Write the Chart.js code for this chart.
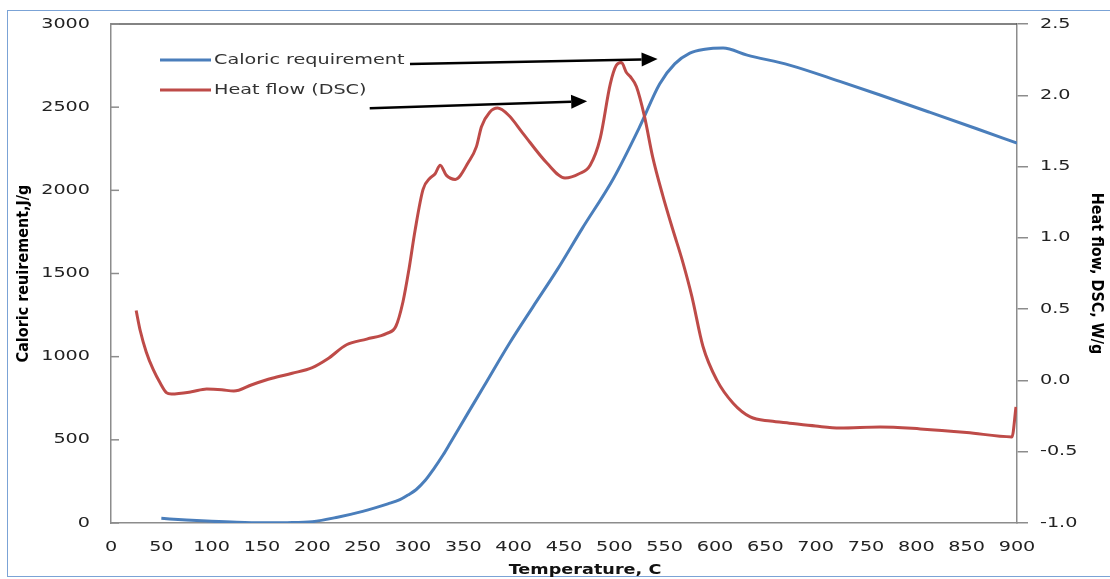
<!DOCTYPE html>
<html>
<head>
<meta charset="utf-8">
<title>Caloric requirement and heat flow (DSC)</title>
<script src="https://cdn.jsdelivr.net/npm/chart.js@4.4.1/dist/chart.umd.min.js"></script>
<style>
  html, body { margin: 0; padding: 0; background: #fff; }
  #wrap { position: relative; width: 1110px; height: 579px; overflow: hidden; }
  #frame { position: absolute; left: 7px; top: 10px; width: 1120px; height: 567px; border: 1.5px solid #7ba3d6; box-sizing: border-box; }
  canvas { position: absolute; left: 0; top: 0; }
</style>
</head>
<body>
<div id="wrap">
  <div id="frame"></div>
  <canvas id="chart" width="1110" height="579"></canvas>
</div>
<script>
// Caloric requirement (left axis, J/g)
var caloricTemp  = [50, 75, 100, 125, 150, 175, 200, 225, 250, 275, 287, 295, 303, 312, 320, 330, 337, 355, 370, 396, 419, 443, 468, 499, 525, 545, 560, 575, 590, 608, 632, 674, 724, 764, 813, 860, 900];
var caloricValue = [28, 18, 10, 4, 1, 2, 8, 35, 70, 115, 140, 168, 200, 255, 320, 410, 481, 665, 817, 1082, 1298, 1520, 1770, 2070, 2380, 2640, 2760, 2825, 2848, 2855, 2813, 2753, 2655, 2573, 2470, 2370, 2284];

// Heat flow DSC (right axis, W/g)
var heatTemp  = [25, 29, 35, 42, 49, 55, 60, 80, 95, 110, 122, 140, 160, 180, 200, 215, 234, 254, 274, 283, 290, 296, 302, 310, 317, 322, 327, 333, 342, 355, 363, 368, 376, 384, 395, 409, 433, 451, 465, 476, 486, 496, 502, 507, 512, 516, 522, 530, 538, 548, 558, 568, 577, 588, 602, 618, 635, 655, 674, 700, 724, 764, 804, 850, 895, 899];
var heatValue = [0.49, 0.35, 0.20, 0.075, -0.02, -0.085, -0.095, -0.08, -0.06, -0.065, -0.075, -0.03, 0.015, 0.05, 0.09, 0.15, 0.25, 0.29, 0.33, 0.38, 0.55, 0.78, 1.05, 1.34, 1.42, 1.45, 1.51, 1.44, 1.41, 1.53, 1.64, 1.78, 1.88, 1.91, 1.86, 1.735, 1.525, 1.42, 1.45, 1.51, 1.70, 2.08, 2.21, 2.23, 2.16, 2.13, 2.06, 1.85, 1.57, 1.30, 1.06, 0.83, 0.59, 0.24, 0.0, -0.16, -0.256, -0.285, -0.30, -0.32, -0.333, -0.326, -0.34, -0.365, -0.396, -0.186];

// tick labels
var tempTicks = [0, 50, 100, 150, 200, 250, 300, 350, 400, 450, 500, 550, 600, 650, 700, 750, 800, 850, 900];
var caloricTicks = [0, 500, 1000, 1500, 2000, 2500, 3000];
var heatTicks = [-1.0, -0.5, 0.0, 0.5, 1.0, 1.5, 2.0, 2.5];

// arrows from legend text towards the peaks (temperature, caloric-axis value)
var arrowFrom = [[297, 2759], [257, 2494]];
var arrowTo   = [[543, 2789], [473, 2536]];

var BLUE = '#4a7ebb';
var RED = '#be4b48';
var AXIS = '#8c8c8c';
var TEXT_FONT = '14px "DejaVu Sans", Verdana, sans-serif';
var STRETCH = 1.37;

function toPoints(xs, ys) {
    return xs.map(function(x, i) { return { x: x, y: ys[i] }; });
}

// Draw text widened horizontally, like the source picture
function wideText(ctx, text, x, y, align, font, stretch) {
    ctx.save();
    ctx.font = font;
    var w = ctx.measureText(text).width * stretch;
    var left = align === 'center' ? x - w / 2 : (align === 'right' ? x - w : x);
    ctx.translate(left, y);
    ctx.scale(stretch, 1);
    ctx.textAlign = 'left';
    ctx.textBaseline = 'middle';
    ctx.fillText(text, 0, 0);
    ctx.restore();
}

function drawArrow(ctx, x1, y1, x2, y2) {
    var ang = Math.atan2(y2 - y1, x2 - x1);
    var head = 16, half = 7;
    var bx = x2 - head * Math.cos(ang), by = y2 - head * Math.sin(ang);
    ctx.beginPath();
    ctx.moveTo(x1, y1);
    ctx.lineTo(bx, by);
    ctx.stroke();
    ctx.beginPath();
    ctx.moveTo(x2, y2);
    ctx.lineTo(bx - half * Math.sin(ang), by + half * Math.cos(ang));
    ctx.lineTo(bx + half * Math.sin(ang), by - half * Math.cos(ang));
    ctx.closePath();
    ctx.fill();
}

var excelLook = {
    id: 'excelLook',
    afterDraw: function(chart) {
        var ctx = chart.ctx, area = chart.chartArea;
        var sx = chart.scales.x, sy = chart.scales.y, sy2 = chart.scales.y2;
        ctx.save();

        // top frame line of the plot area
        ctx.strokeStyle = '#5a5a5a';
        ctx.lineWidth = 1.5;
        ctx.beginPath();
        ctx.moveTo(area.left, area.top);
        ctx.lineTo(area.right, area.top);
        ctx.stroke();

        // inward tick marks on the left axis
        ctx.strokeStyle = AXIS;
        caloricTicks.forEach(function(v) {
            var py = sy.getPixelForValue(v);
            ctx.beginPath();
            ctx.moveTo(area.left, py);
            ctx.lineTo(area.left + 8, py);
            ctx.stroke();
        });

        // tick labels
        ctx.fillStyle = '#222';
        caloricTicks.forEach(function(v) {
            wideText(ctx, String(v), area.left - 21, sy.getPixelForValue(v), 'right', TEXT_FONT, STRETCH);
        });
        heatTicks.forEach(function(v) {
            wideText(ctx, v.toFixed(1), area.right + 23, sy2.getPixelForValue(v), 'left', TEXT_FONT, STRETCH);
        });
        tempTicks.forEach(function(v) {
            wideText(ctx, String(v), sx.getPixelForValue(v), area.bottom + 24, 'center', TEXT_FONT, STRETCH);
        });

        // x axis title
        ctx.fillStyle = '#111';
        wideText(ctx, 'Temperature, C', (area.left + area.right) / 2 + 21, area.bottom + 47,
                 'center', 'bold 14px "DejaVu Sans", Verdana, sans-serif', 1.26);

        // legend inside the plot
        chart.data.datasets.forEach(function(ds, i) {
            var ly = area.top + 36 + i * 30;
            ctx.strokeStyle = ds.borderColor;
            ctx.lineWidth = 3;
            ctx.beginPath();
            ctx.moveTo(area.left + 49, ly);
            ctx.lineTo(area.left + 100, ly);
            ctx.stroke();
            ctx.fillStyle = '#333';
            wideText(ctx, ds.label, area.left + 103, ly, 'left', TEXT_FONT, STRETCH);
        });

        // arrows
        ctx.strokeStyle = '#000';
        ctx.fillStyle = '#000';
        ctx.lineWidth = 2.5;
        arrowFrom.forEach(function(p, i) {
            var q = arrowTo[i];
            drawArrow(ctx, sx.getPixelForValue(p[0]), sy.getPixelForValue(p[1]),
                      sx.getPixelForValue(q[0]), sy.getPixelForValue(q[1]));
        });

        ctx.restore();
    }
};

function setTicks(values) {
    return function(scale) {
        scale.ticks = values.map(function(v) { return { value: v }; });
    };
}

var titleFont = { family: '"Liberation Sans Narrow", "DejaVu Sans Condensed", "Arial Narrow", sans-serif', size: 16, weight: 'bold' };

var chart = new Chart(document.getElementById('chart'), {
    type: 'line',
    data: {
        datasets: [{
            label: 'Caloric requirement',
            data: toPoints(caloricTemp, caloricValue),
            yAxisID: 'y',
            borderColor: BLUE,
            borderWidth: 3,
            pointRadius: 0,
            cubicInterpolationMode: 'monotone',
            order: 1
        }, {
            label: 'Heat flow (DSC)',
            data: toPoints(heatTemp, heatValue),
            yAxisID: 'y2',
            borderColor: RED,
            borderWidth: 3,
            pointRadius: 0,
            cubicInterpolationMode: 'monotone',
            order: 0
        }]
    },
    options: {
        responsive: false,
        animation: false,
        devicePixelRatio: 1,
        layout: { padding: { top: 24, left: 0, right: 0, bottom: 0 } },
        plugins: { legend: { display: false }, tooltip: { enabled: false } },
        scales: {
            x: {
                type: 'linear',
                min: 0,
                max: 900,
                afterBuildTicks: setTicks(tempTicks),
                afterFit: function(scale) { scale.height = 56; },
                ticks: { display: false },
                grid: { display: false },
                border: { display: true, color: AXIS, width: 1.5 }
            },
            y: {
                position: 'left',
                min: 0,
                max: 3000,
                afterBuildTicks: setTicks(caloricTicks),
                afterFit: function(scale) { scale.width = 111; },
                ticks: { display: false },
                grid: { display: false },
                border: { display: true, color: AXIS, width: 1.5 },
                title: {
                    display: true,
                    text: 'Caloric reuirement,J/g',
                    color: '#000',
                    font: titleFont,
                    padding: { top: 14, bottom: 0 }
                }
            },
            y2: {
                position: 'right',
                min: -1.0,
                max: 2.5,
                afterBuildTicks: setTicks(heatTicks),
                afterFit: function(scale) { scale.width = 93; },
                ticks: { display: false },
                grid: { drawOnChartArea: false, drawTicks: true, tickLength: 11, color: AXIS, lineWidth: 1.5 },
                border: { display: true, color: AXIS, width: 1.5 },
                title: {
                    display: true,
                    text: 'Heat flow, DSC, W/g',
                    color: '#000',
                    font: titleFont,
                    padding: { top: 4, bottom: 0 }
                }
            }
        }
    },
    plugins: [excelLook]
});
</script>
</body>
</html>
